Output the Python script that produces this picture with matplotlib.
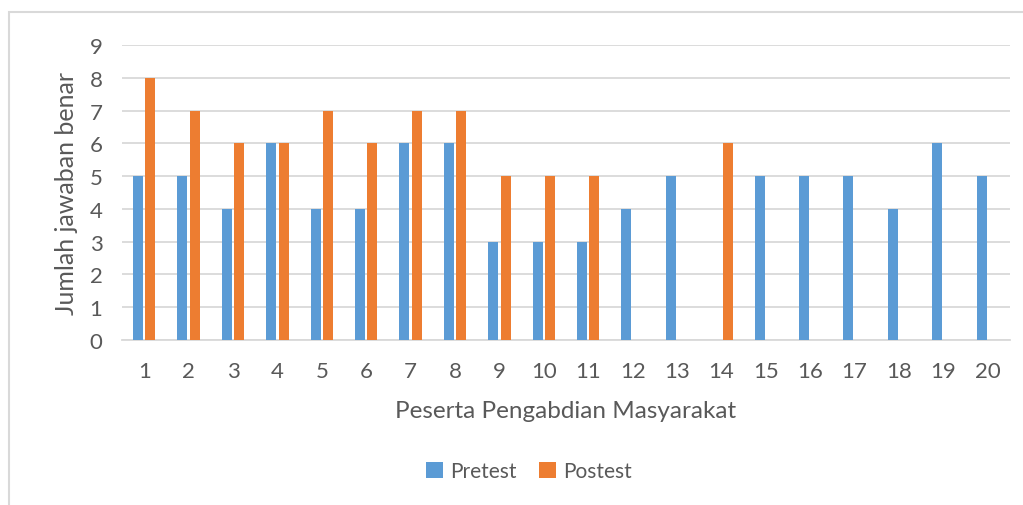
# Pretest vs Postest bar chart
import numpy as np
import matplotlib.pyplot as plt
from matplotlib.patches import Rectangle

peserta = [str(i) for i in range(1, 21)]
pretest = [5, 5, 4, 6, 4, 4, 6, 6, 3, 3, 3, 4, 5, 0, 5, 5, 5, 4, 6, 5]
postest = [8, 7, 6, 6, 7, 6, 7, 7, 5, 5, 5, 0, 0, 6, 0, 0, 0, 0, 0, 0]

plt.rcParams['font.family'] = ['Lato', 'DejaVu Sans']
txt = '#595959'

fig = plt.figure(figsize=(10.23, 5.06), dpi=100)
fig.patches.append(Rectangle((9 / 1023, -0.1), 1.2, 1 - 13 / 506 + 0.1,
                             transform=fig.transFigure, fill=False,
                             edgecolor='#d9d9d9', linewidth=1.5))
ax = fig.add_axes([122 / 1023, 1 - 341 / 506, 888 / 1023, 295 / 506])

pos = np.arange(len(peserta))
w = 0.225
ax.bar(pos - 0.14, pretest, w, color='#5b9bd5', label='Pretest', zorder=3)
ax.bar(pos + 0.14, postest, w, color='#ed7d31', label='Postest', zorder=3)

ax.set_xlim(-0.5, len(peserta) - 0.5)
ax.set_ylim(0, 9)
ax.set_yticks(range(0, 10))
ax.set_xticks(pos)
ax.set_xticklabels(peserta)
ax.grid(axis='y', color='#d9d9d9', linewidth=1.3, zorder=0)
for s in ['top', 'right', 'left']:
    ax.spines[s].set_visible(False)
ax.spines['bottom'].set_color('#d9d9d9')
ax.spines['bottom'].set_linewidth(1.3)
ax.tick_params(length=0, labelsize=16, colors=txt, pad=14)
ax.tick_params(axis='x', pad=15)

ax.set_xlabel('Peserta Pengabdian Masyarakat', fontsize=17.5, color=txt, labelpad=14)
ax.set_ylabel('Jumlah jawaban benar', fontsize=18, color=txt, labelpad=8)

fig.legend(loc='center', bbox_to_anchor=(529 / 1023, 1 - 472 / 506), ncol=2,
           frameon=False, fontsize=15, labelcolor=txt, handlelength=0.8,
           handleheight=0.8, handletextpad=0.35, columnspacing=1.1)

fig.savefig('out.png', dpi=100)
